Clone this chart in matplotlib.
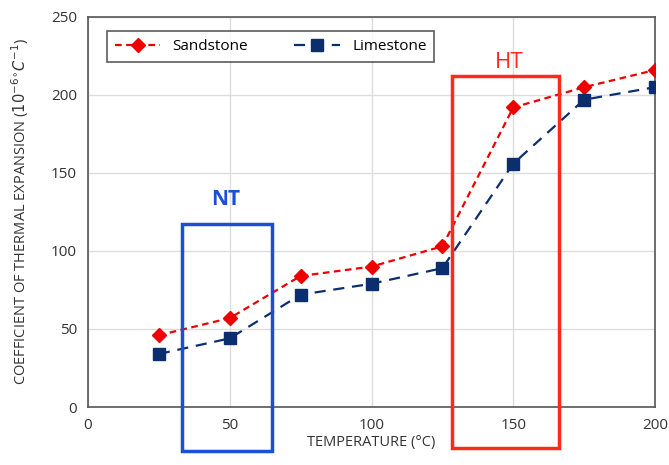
import matplotlib
matplotlib.use("Agg")
import matplotlib.pyplot as plt
from matplotlib.patches import Rectangle

temperature = [25, 50, 75, 100, 125, 150, 175, 200]
sandstone = [46, 57, 84, 90, 103, 192, 205, 216]
limestone = [34, 44, 72, 79, 89, 156, 197, 205]

nt_range = (33, 65)
ht_range = (128.5, 166)

plt.rcParams['font.family'] = ['Open Sans', 'DejaVu Sans']

fig = plt.figure(figsize=(6.69, 4.65), dpi=100)
ax = fig.add_axes([88 / 669, 58 / 465, 567 / 669, 390 / 465])

ax.plot(temperature, sandstone, color='#ee0000', linestyle=(0, (3, 2)), linewidth=1.6,
        marker='D', markersize=7, label='Sandstone', zorder=3)
ax.plot(temperature, limestone, color='#0b2f6e', linestyle=(0, (5, 3.5)), linewidth=1.6,
        marker='s', markersize=8, label='Limestone', zorder=3)

ax.set_xlim(0, 200)
ax.set_ylim(0, 250)
ax.set_xticks([0, 50, 100, 150, 200])
ax.set_yticks([0, 50, 100, 150, 200, 250])
ax.grid(True, color='#dddddd', linewidth=1)
ax.set_axisbelow(True)
for s in ax.spines.values():
    s.set_color('#555555')
    s.set_linewidth(1.2)
ax.tick_params(length=0, labelsize=11, labelcolor='#333333', pad=8)

ax.set_xlabel('TEMPERATURE (°C)', fontsize=10.5, color='#333333', labelpad=1)
ax.set_ylabel(r'COEFFICIENT OF THERMAL EXPANSION ($10^{-6}{}^{\circ}C^{-1}$)',
              fontsize=10.5, color='#333333', labelpad=14)

# temperature regions
nt = Rectangle((nt_range[0], -28), nt_range[1] - nt_range[0], 145, fill=False,
               edgecolor='#1a4fd6', linewidth=2.5, clip_on=False, zorder=4)
ht = Rectangle((ht_range[0], -26), ht_range[1] - ht_range[0], 238, fill=False,
               edgecolor='#ff2a1a', linewidth=2.5, clip_on=False, zorder=4)
ax.add_patch(nt)
ax.add_patch(ht)
ax.text(48.5, 133, 'NT', color='#1a4fd6', fontsize=15, fontweight='bold', ha='center', va='center')
ax.text(148.5, 221, 'HT', color='#ff2a1a', fontsize=16, ha='center', va='center')

leg = ax.legend(loc='upper left', ncol=2, bbox_to_anchor=(0.0335, 0.963), fontsize=11,
                frameon=True, fancybox=False, edgecolor='#333333', handlelength=3,
                columnspacing=3, borderpad=0.5, borderaxespad=0)
leg.get_frame().set_linewidth(1.2)

fig.savefig('out.png', dpi=100)
